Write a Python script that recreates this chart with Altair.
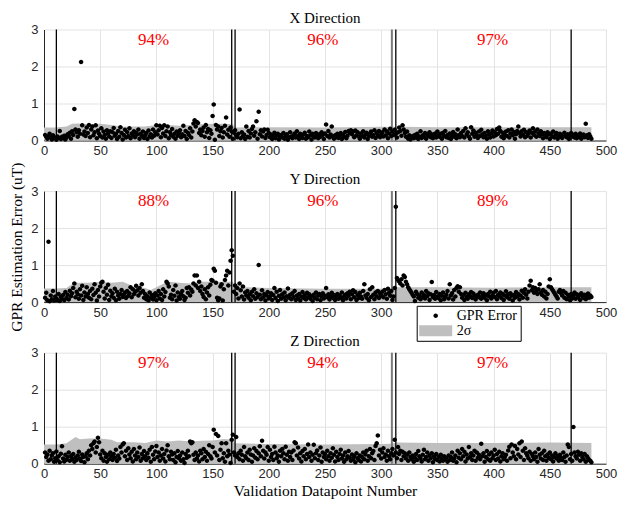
import altair as alt
import pandas as pd

# ---------------- data ----------------
X_ERR = [
    0.15, 0.10, 0.05, 0.12, 0.18, 0.08, 0.03, 0.14, 0.09, 0.06,
    0.02, 0.11, 0.07, 0.26, 0.04, 0.10, 0.06, 0.13, 0.03, 0.08,
    0.17, 0.12, 0.21, 0.05, 0.25, 0.15, 0.85, 0.30, 0.22, 0.10,
    0.28, 0.18, 2.12, 0.41, 0.16, 0.24, 0.12, 0.35, 0.20, 0.42,
    0.09, 0.30, 0.38, 0.14, 0.22, 0.41, 0.06, 0.27, 0.18, 0.12,
    0.33, 0.08, 0.24, 0.15, 0.05, 0.28, 0.19, 0.11, 0.25, 0.07,
    0.22, 0.34, 0.13, 0.18, 0.04, 0.26, 0.10, 0.36, 0.20, 0.03,
    0.15, 0.29, 0.08, 0.23, 0.12, 0.33, 0.06, 0.19, 0.14, 0.25,
    0.09, 0.21, 0.16, 0.30, 0.05, 0.18, 0.12, 0.24, 0.07, 0.14,
    0.20, 0.04, 0.27, 0.11, 0.17, 0.08, 0.30, 0.13, 0.22, 0.41,
    0.16, 0.28, 0.40, 0.09, 0.34, 0.19, 0.41, 0.12, 0.25, 0.38,
    0.06, 0.22, 0.15, 0.31, 0.10, 0.18, 0.05, 0.24, 0.13, 0.20,
    0.28, 0.09, 0.17, 0.40, 0.12, 0.26, 0.04, 0.21, 0.15, 0.33,
    0.08, 0.24, 0.46, 0.55, 0.38, 0.50, 0.47, 0.20, 0.30, 0.14,
    0.26, 0.35, 0.10, 0.42, 0.22, 0.31, 0.07, 0.28, 0.18, 0.66,
    0.97, 0.02, 0.42, 0.30, 0.38, 0.12, 0.25, 0.34, 0.08, 0.22,
    0.40, 0.62, 0.16, 0.29, 0.10, 0.35, 0.24, 0.05, 0.21, 0.28,
    0.14, 0.09, 0.18, 0.84, 0.06, 0.22, 0.12, 0.16, 0.04, 0.38,
    0.10, 0.26, 0.08, 0.19, 0.31, 0.38, 0.13, 0.22, 0.52, 0.05,
    0.78, 0.17, 0.28, 0.11, 0.24, 0.30, 0.07, 0.15, 0.29, 0.20,
    0.09, 0.16, 0.04, 0.12, 0.21, 0.06, 0.14, 0.18, 0.03, 0.10,
    0.15, 0.08, 0.20, 0.05, 0.12, 0.17, 0.02, 0.09, 0.22, 0.11,
    0.06, 0.14, 0.19, 0.08, 0.25, 0.13, 0.04, 0.18, 0.10, 0.07,
    0.16, 0.21, 0.05, 0.12, 0.09, 0.24, 0.14, 0.03, 0.18, 0.11,
    0.08, 0.20, 0.13, 0.06, 0.17, 0.10, 0.22, 0.15, 0.04, 0.19,
    0.43, 0.12, 0.26, 0.08, 0.16, 0.38, 0.10, 0.05, 0.14, 0.09,
    0.18, 0.07, 0.12, 0.20, 0.04, 0.15, 0.10, 0.23, 0.06, 0.13,
    0.26, 0.21, 0.28, 0.17, 0.24, 0.09, 0.27, 0.14, 0.22, 0.11,
    0.05, 0.19, 0.13, 0.25, 0.08, 0.16, 0.21, 0.04, 0.12, 0.18,
    0.24, 0.10, 0.15, 0.28, 0.07, 0.20, 0.13, 0.26, 0.09, 0.17,
    0.22, 0.11, 0.30, 0.14, 0.25, 0.06, 0.19, 0.32, 0.12, 0.24,
    0.15, 0.29, 0.18, 0.08, 0.22, 0.35, 0.26, 0.13, 0.41, 0.30,
    0.20, 0.10, 0.24, 0.05, 0.14, 0.03, 0.09, 0.12, 0.06, 0.15,
    0.08, 0.18, 0.04, 0.11, 0.25, 0.07, 0.14, 0.10, 0.20, 0.05,
    0.16, 0.12, 0.22, 0.09, 0.17, 0.06, 0.13, 0.19, 0.08, 0.24,
    0.14, 0.10, 0.18, 0.05, 0.21, 0.12, 0.26, 0.09, 0.15, 0.07,
    0.19, 0.04, 0.13, 0.23, 0.10, 0.17, 0.06, 0.30, 0.14, 0.09,
    0.20, 0.12, 0.26, 0.08, 0.33, 0.16, 0.22, 0.11, 0.05, 0.36,
    0.18, 0.27, 0.10, 0.21, 0.14, 0.07, 0.24, 0.12, 0.29, 0.17,
    0.09, 0.20, 0.13, 0.05, 0.25, 0.16, 0.08, 0.19, 0.27, 0.11,
    0.22, 0.14, 0.31, 0.18, 0.35, 0.26, 0.10, 0.21, 0.06, 0.15,
    0.24, 0.12, 0.28, 0.08, 0.19, 0.30, 0.14, 0.23, 0.05, 0.17,
    0.26, 0.38, 0.20, 0.11, 0.25, 0.16, 0.29, 0.09, 0.22, 0.13,
    0.18, 0.27, 0.08, 0.21, 0.33, 0.15, 0.24, 0.10, 0.30, 0.19,
    0.12, 0.25, 0.17, 0.06, 0.20, 0.14, 0.09, 0.22, 0.16, 0.04,
    0.19, 0.11, 0.24, 0.08, 0.15, 0.20, 0.05, 0.13, 0.18, 0.10,
    0.07, 0.16, 0.21, 0.12, 0.09, 0.17, 0.04, 0.14, 0.20, 0.11,
    0.15, 0.08, 0.18, 0.06, 0.13, 0.10, 0.19, 0.05, 0.12, 0.16,
    0.09, 0.45, 0.14, 0.07, 0.17, 0.11, 0.05,
]

Y_ERR = [
    0.12, 0.25, 0.05, 1.63, 0.02, 0.18, 0.08, 0.30, 0.04, 0.15,
    0.10, 0.06, 0.22, 0.03, 0.14, 0.09, 0.19, 0.05, 0.27, 0.11,
    0.20, 0.07, 0.31, 0.16, 0.24, 0.38, 0.50, 0.13, 0.28, 0.21,
    0.09, 0.35, 0.18, 0.44, 0.06, 0.26, 0.15, 0.40, 0.22, 0.12,
    0.30, 0.08, 0.36, 0.19, 0.48, 0.25, 0.04, 0.33, 0.15, 0.42,
    0.52, 0.55, 0.28, 0.10, 0.38, 0.20, 0.47, 0.06, 0.31, 0.16,
    0.24, 0.12, 0.36, 0.05, 0.28, 0.18, 0.09, 0.22, 0.33, 0.14,
    0.20, 0.26, 0.11, 0.30, 0.17, 0.24, 0.40, 0.13, 0.35, 0.21,
    0.27, 0.44, 0.32, 0.18, 0.38, 0.25, 0.48, 0.30, 0.12, 0.22,
    0.08, 0.16, 0.04, 0.26, 0.11, 0.19, 0.07, 0.14, 0.24, 0.05,
    0.18, 0.30, 0.10, 0.22, 0.06, 0.35, 0.15, 0.27, 0.55, 0.50,
    0.42, 0.12, 0.20, 0.08, 0.33, 0.17, 0.45, 0.04, 0.26, 0.14,
    0.09, 0.22, 0.30, 0.16, 0.06, 0.12, 0.38, 0.25, 0.40, 0.18,
    0.34, 0.28, 0.50, 0.72, 0.45, 0.72, 0.38, 0.55, 0.30, 0.42,
    0.22, 0.14, 0.35, 0.08, 0.26, 0.40, 0.18, 0.47, 0.60, 0.58,
    0.90, 0.85, 0.52, 0.12, 0.05, 0.10, 0.42, 0.48, 0.04, 0.35,
    0.60, 0.72, 0.85, 0.45, 0.80, 1.12, 1.40, 1.25, 0.28, 0.45,
    0.22, 0.38, 0.10, 0.50, 0.32, 0.15, 0.42, 0.07, 0.26, 0.18,
    0.30, 0.12, 0.21, 0.05, 0.28, 0.16, 0.35, 0.09, 0.24, 0.14,
    1.00, 0.20, 0.08, 0.32, 0.13, 0.22, 0.04, 0.18, 0.27, 0.10,
    0.15, 0.24, 0.06, 0.19, 0.38, 0.11, 0.28, 0.03, 0.17, 0.33,
    0.09, 0.21, 0.13, 0.26, 0.05, 0.16, 0.37, 0.12, 0.20, 0.08,
    0.24, 0.14, 0.30, 0.06, 0.18, 0.10, 0.22, 0.04, 0.15, 0.27,
    0.11, 0.19, 0.07, 0.25, 0.13, 0.21, 0.09, 0.16, 0.03, 0.20,
    0.12, 0.26, 0.08, 0.18, 0.22, 0.05, 0.15, 0.24, 0.10, 0.17,
    0.38, 0.13, 0.21, 0.07, 0.16, 0.25, 0.11, 0.19, 0.06, 0.14,
    0.22, 0.09, 0.18, 0.12, 0.26, 0.05, 0.15, 0.20, 0.10, 0.24,
    0.17, 0.28, 0.08, 0.21, 0.32, 0.13, 0.27, 0.06, 0.19, 0.11,
    0.25, 0.15, 0.09, 0.30, 0.48, 0.18, 0.12, 0.22, 0.05, 0.35,
    0.14, 0.40, 0.20, 0.08, 0.26, 0.16, 0.30, 0.11, 0.23, 0.18,
    0.28, 0.13, 0.33, 0.21, 0.09, 0.36, 0.25, 0.17, 0.30, 0.06,
    0.15, 0.38, 2.58, 0.65, 0.60, 0.56, 0.50, 0.62, 0.45, 0.72,
    0.68, 0.55, 0.48, 0.40, 0.35, 0.30, 0.25, 0.20, 0.15, 0.03,
    0.28, 0.22, 0.12, 0.18, 0.08, 0.26, 0.14, 0.20, 0.10, 0.30,
    0.16, 0.24, 0.06, 0.21, 0.54, 0.13, 0.19, 0.09, 0.27, 0.15,
    0.11, 0.22, 0.05, 0.17, 0.26, 0.08, 0.14, 0.20, 0.30, 0.10,
    0.48, 0.18, 0.24, 0.07, 0.33, 0.15, 0.38, 0.43, 0.28, 0.40,
    0.22, 0.12, 0.19, 0.06, 0.25, 0.14, 0.09, 0.21, 0.16, 0.27,
    0.11, 0.23, 0.18, 0.07, 0.15, 0.20, 0.13, 0.26, 0.09, 0.17,
    0.24, 0.12, 0.19, 0.05, 0.22, 0.15, 0.28, 0.10, 0.18, 0.25,
    0.14, 0.30, 0.08, 0.20, 0.16, 0.26, 0.11, 0.22, 0.06, 0.18,
    0.29, 0.13, 0.21, 0.09, 0.24, 0.17, 0.04, 0.19, 0.12, 0.27,
    0.15, 0.22, 0.07, 0.18, 0.31, 0.12, 0.25, 0.35, 0.20, 0.10,
    0.28, 0.45, 0.58, 0.32, 0.40, 0.25, 0.38, 0.30, 0.22, 0.35,
    0.48, 0.26, 0.20, 0.33, 0.15, 0.28, 0.10, 0.22, 0.42, 0.62,
    0.40, 0.35, 0.30, 0.25, 0.20, 0.15, 0.10, 0.28, 0.33, 0.24,
    0.18, 0.30, 0.12, 0.25, 0.08, 0.20, 0.15, 0.05, 0.22, 0.10,
    0.17, 0.26, 0.09, 0.21, 0.13, 0.19, 0.06, 0.24, 0.15, 0.11,
    0.20, 0.08, 0.16, 0.23, 0.12, 0.18, 0.14,
]

Z_ERR = [
    0.30, 0.18, 0.25, 0.08, 0.35, 0.12, 0.22, 0.28, 0.05, 0.15,
    0.33, 0.10, 0.20, 0.04, 0.27, 0.47, 0.14, 0.06, 0.24, 0.11,
    0.18, 0.30, 0.08, 0.21, 0.13, 0.26, 0.05, 0.17, 0.10, 0.22,
    0.32, 0.14, 0.07, 0.25, 0.18, 0.04, 0.20, 0.28, 0.12, 0.35,
    0.22, 0.50, 0.40, 0.55, 0.60, 0.30, 0.45, 0.70, 0.58, 0.25,
    0.15, 0.35, 0.08, 0.28, 0.18, 0.05, 0.24, 0.12, 0.30, 0.20,
    0.10, 0.26, 0.16, 0.38, 0.07, 0.22, 0.14, 0.45, 0.30, 0.52,
    0.55, 0.20, 0.35, 0.10, 0.42, 0.25, 0.15, 0.32, 0.06, 0.40,
    0.22, 0.12, 0.30, 0.18, 0.44, 0.08, 0.26, 0.15, 0.34, 0.20,
    0.10, 0.28, 0.16, 0.38, 0.05, 0.45, 0.24, 0.12, 0.33, 0.48,
    0.18, 0.30, 0.08, 0.22, 0.40, 0.14, 0.26, 0.06, 0.36, 0.50,
    0.20, 0.12, 0.32, 0.25, 0.10, 0.28, 0.04, 0.18, 0.34, 0.15,
    0.22, 0.08, 0.30, 0.12, 0.02, 0.26, 0.16, 0.35, 0.20, 0.60,
    0.55, 0.58, 0.24, 0.10, 0.30, 0.14, 0.22, 0.06, 0.35, 0.28,
    0.12, 0.40, 0.18, 0.32, 0.08, 0.26, 0.50, 0.20, 0.14, 0.45,
    0.92, 0.30, 0.80, 0.22, 0.75, 0.10, 0.38, 0.55, 0.15, 0.28,
    0.05, 0.55, 0.20, 0.35, 0.25, 0.02, 0.65, 0.78, 0.30, 0.22,
    0.72, 0.18, 0.28, 0.12, 0.35, 0.24, 0.08, 0.45, 0.20, 0.15,
    0.30, 0.10, 0.38, 0.25, 0.05, 0.22, 0.42, 0.16, 0.34, 0.12,
    0.28, 0.47, 0.20, 0.62, 0.35, 0.14, 0.30, 0.24, 0.45, 0.08,
    0.38, 0.18, 0.26, 0.10, 0.46, 0.30, 0.15, 0.22, 0.05, 0.35,
    0.20, 0.40, 0.28, 0.12, 0.46, 0.24, 0.08, 0.32, 0.18, 0.30,
    0.10, 0.36, 0.58, 0.55, 0.22, 0.44, 0.14, 0.28, 0.06, 0.34,
    0.20, 0.40, 0.12, 0.26, 0.52, 0.18, 0.30, 0.08, 0.24, 0.51,
    0.15, 0.28, 0.36, 0.10, 0.22, 0.44, 0.05, 0.30, 0.18, 0.26,
    0.12, 0.35, 0.20, 0.08, 0.28, 0.16, 0.42, 0.24, 0.06, 0.32,
    0.18, 0.10, 0.26, 0.38, 0.14, 0.22, 0.05, 0.30, 0.12, 0.20,
    0.34, 0.16, 0.08, 0.25, 0.12, 0.20, 0.04, 0.28, 0.15, 0.10,
    0.22, 0.06, 0.18, 0.30, 0.12, 0.25, 0.35, 0.08, 0.20, 0.40,
    0.15, 0.28, 0.34, 0.10, 0.48, 0.55, 0.76, 0.22, 0.38, 0.14,
    0.30, 0.42, 0.18, 0.25, 0.08, 0.35, 0.20, 0.12, 0.28, 0.40,
    0.22, 0.65, 0.30, 0.15, 0.45, 0.26, 0.35, 0.10, 0.32, 0.20,
    0.28, 0.14, 0.24, 0.08, 0.30, 0.18, 0.12, 0.22, 0.05, 0.16,
    0.26, 0.10, 0.34, 0.20, 0.14, 0.06, 0.24, 0.38, 0.12, 0.18,
    0.30, 0.08, 0.22, 0.15, 0.28, 0.04, 0.20, 0.12, 0.26, 0.10,
    0.18, 0.06, 0.24, 0.14, 0.08, 0.20, 0.12, 0.16, 0.05, 0.22,
    0.10, 0.18, 0.30, 0.08, 0.14, 0.22, 0.04, 0.35, 0.16, 0.28,
    0.12, 0.40, 0.20, 0.32, 0.06, 0.25, 0.14, 0.45, 0.18, 0.28,
    0.10, 0.22, 0.35, 0.08, 0.30, 0.16, 0.24, 0.12, 0.54, 0.20,
    0.28, 0.05, 0.18, 0.34, 0.12, 0.25, 0.08, 0.30, 0.15, 0.22,
    0.38, 0.10, 0.26, 0.14, 0.32, 0.06, 0.20, 0.28, 0.12, 0.18,
    0.24, 0.08, 0.36, 0.46, 0.15, 0.52, 0.30, 0.20, 0.48, 0.12,
    0.40, 0.25, 0.55, 0.18, 0.60, 0.35, 0.10, 0.42, 0.28, 0.22,
    0.15, 0.32, 0.08, 0.26, 0.20, 0.12, 0.30, 0.18, 0.05, 0.40,
    0.24, 0.14, 0.28, 0.10, 0.35, 0.20, 0.08, 0.25, 0.16, 0.30,
    0.12, 0.22, 0.06, 0.18, 0.28, 0.14, 0.20, 0.08, 0.24, 0.16,
    0.10, 0.30, 0.18, 0.05, 0.22, 0.52, 0.45, 0.12, 0.26, 0.08,
    0.99, 0.30, 0.20, 0.14, 0.32, 0.24, 0.08, 0.28, 0.18, 0.12,
    0.26, 0.05, 0.20, 0.15, 0.10, 0.08, 0.04,
]

# 2-sigma band upper edge (sampled along the datapoint axis)
X_BAND_POS = [0, 10, 20, 25, 30, 40, 50, 60, 70, 80, 90, 100, 110, 120, 130, 140,
              150, 160, 168, 170, 200, 250, 300, 320, 350, 400, 450, 487]
X_BAND_VAL = [0.35, 0.35, 0.38, 0.45, 0.46, 0.44, 0.45, 0.42, 0.37, 0.38, 0.38, 0.42,
              0.42, 0.40, 0.42, 0.44, 0.45, 0.45, 0.44, 0.35, 0.36, 0.35, 0.37, 0.37,
              0.36, 0.36, 0.36, 0.36]
Y_BAND_POS = [0, 10, 20, 25, 30, 40, 50, 60, 70, 80, 90, 95, 100, 110, 120, 130, 140,
              150, 160, 168, 170, 180, 200, 250, 300, 310, 313, 350, 400, 450, 487]
Y_BAND_VAL = [0.37, 0.37, 0.38, 0.48, 0.52, 0.52, 0.55, 0.52, 0.55, 0.42, 0.38, 0.33,
              0.40, 0.56, 0.52, 0.50, 0.55, 0.55, 0.55, 0.55, 0.42, 0.40, 0.38, 0.36,
              0.36, 0.37, 0.40, 0.40, 0.39, 0.40, 0.40]
Z_BAND_POS = [0, 10, 20, 28, 32, 40, 50, 60, 65, 80, 90, 100, 110, 120, 130, 140, 150,
              160, 168, 170, 200, 250, 300, 310, 313, 350, 400, 450, 487]
Z_BAND_VAL = [0.52, 0.52, 0.55, 0.72, 0.66, 0.68, 0.68, 0.65, 0.58, 0.58, 0.56, 0.63,
              0.60, 0.63, 0.60, 0.62, 0.63, 0.67, 0.65, 0.55, 0.53, 0.52, 0.53, 0.54,
              0.57, 0.56, 0.56, 0.57, 0.56]

VLINES = [11, 167, 170, 313, 469]
VLINE_GRAY = [309.5]

PCT_POS = [97.5, 248, 399]
PCT_Y = 2.72
X_PCT = ["94%", "96%", "97%"]
Y_PCT = ["88%", "96%", "89%"]
Z_PCT = ["97%", "94%", "97%"]

SERIES = ["GPR Error", "2σ"]
TICKS_X = list(range(0, 501, 50))
TICKS_Y = [0, 1, 2, 3]

# ---------------- chart ----------------
DOT = "M-0.375,0A0.375,0.375,0,1,0,0.375,0A0.375,0.375,0,1,0,-0.375,0Z"
RECT = "M-2.75,-0.92H2.75V0.92H-2.75Z"
SERIF = "Liberation Serif"
SANS = "Liberation Sans"


def panel(name, errs, bpos, bval, pcts, xtitle, ytitle, show_legend, title_offset):
    pts = pd.DataFrame({"n": list(range(1, len(errs) + 1)), "err": errs, "s": SERIES[0]})
    band = pd.DataFrame({"n": bpos, "err": bval, "s": SERIES[1]})
    lines = pd.DataFrame({"n": VLINES})
    glines = pd.DataFrame({"n": VLINE_GRAY})
    txt = pd.DataFrame({"n": PCT_POS, "err": [PCT_Y] * len(PCT_POS), "t": pcts})

    x_enc = alt.X("n:Q", scale=alt.Scale(domain=[0, 500], nice=False, zero=False),
                  axis=alt.Axis(values=TICKS_X, format="d", labelFlush=False), title=xtitle)
    y_enc = alt.Y("err:Q", scale=alt.Scale(domain=[0, 3], nice=False),
                  axis=alt.Axis(values=TICKS_Y, format="d", labelFlush=False), title=ytitle)

    if show_legend:
        leg = alt.Legend(orient="none", legendX=372.7, legendY=114.7, title=None,
                         fillColor="white", strokeColor="black", padding=3,
                         symbolSize=144, symbolOffset=9, labelOffset=14,
                         labelFont=SERIF, labelFontSize=14, labelColor="black",
                         rowPadding=1, symbolStrokeWidth=0, symbolOpacity=1)
    else:
        leg = None
    color = alt.Color("s:N", scale=alt.Scale(domain=SERIES, range=["#000000", "#bfbfbf"]),
                      legend=leg)
    shape = alt.Shape("s:N", scale=alt.Scale(domain=SERIES, range=[DOT, RECT]), legend=leg)

    area = alt.Chart(band).mark_area(opacity=1).encode(x=x_enc, y=y_enc, color=color)
    rules = alt.Chart(lines).mark_rule(color="black", strokeWidth=1.3).encode(x=x_enc)
    grule = alt.Chart(glines).mark_rule(color="#7a7a7a", strokeWidth=2).encode(x=x_enc)
    dots = alt.Chart(pts).mark_point(filled=True, size=144, opacity=1).encode(
        x=x_enc, y=y_enc, color=color, shape=shape)
    text = alt.Chart(txt).mark_text(color="#ff0000", font=SERIF, fontSize=17,
                                    align="center", baseline="middle").encode(
        x=x_enc, y=y_enc, text="t:N")

    return alt.layer(area, grule, rules, dots, text).properties(
        width=562, height=111,
        title=alt.TitleParams(text=name, font=SERIF, fontSize=15, fontWeight="normal",
                              color="black", offset=title_offset, anchor="middle",
                              frame="group"))


px = panel("X Direction", X_ERR, X_BAND_POS, X_BAND_VAL, X_PCT, None, None, False, -2.5)
py = panel("Y Direction", Y_ERR, Y_BAND_POS, Y_BAND_VAL, Y_PCT, None,
           "GPR Estimation Error (uT)", True, -25)
pz = panel("Z Direction", Z_ERR, Z_BAND_POS, Z_BAND_VAL, Z_PCT,
           "Validation Datapoint Number", None, False, -2.5)

chart = alt.vconcat(px, py, pz, spacing=50.6, bounds="flush").resolve_scale(
    color="independent", shape="independent"
).resolve_legend(color="independent", shape="independent").properties(
    padding={"left": 9, "top": 10.5, "right": 5, "bottom": 0}
).configure_view(strokeWidth=0).configure_axis(
    grid=True, gridColor="#e3e3e3", gridWidth=1,
    domainColor="#262626", domainWidth=1,
    labelColor="#262626", labelFont=SANS, labelFontSize=13,
    ticks=False, titleFont=SERIF, titleFontSize=15.5, titleFontWeight="normal",
    titleColor="black"
).configure_axisX(labelPadding=4, titlePadding=3).configure_axisY(
    labelPadding=6, titlePadding=6)

chart.save("out.html", embed_options={"renderer": "svg", "actions": False})
